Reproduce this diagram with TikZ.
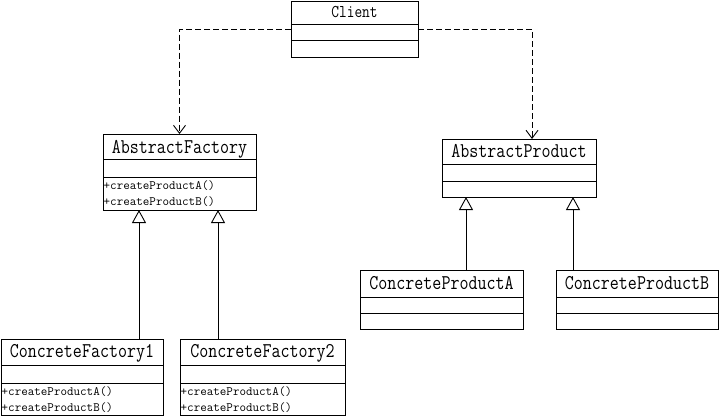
\documentclass[tikz,border=0pt]{standalone}
\usetikzlibrary{arrows.meta}
\newcommand{\tallname}[1]{\scalebox{1}[1.2]{#1}}
\begin{document}
\begin{tikzpicture}[x=1pt,y=-1pt,
  box/.style={draw, line width=0.9pt, inner sep=0pt, outer sep=0pt, anchor=north west},
  div/.style={line width=0.9pt},
  cname/.style={anchor=base, inner sep=0pt, font=\fontsize{17.5}{20}\selectfont\ttfamily},
  clname/.style={anchor=base, inner sep=0pt, font=\fontsize{15}{18}\selectfont\ttfamily},
  meth/.style={anchor=base west, inner sep=0pt, font=\fontsize{12.7}{15}\selectfont\ttfamily},
  dep/.style={line width=0.9pt, dash pattern=on 6pt off 3pt, -{Straight Barb[length=8pt,width=12pt,line width=0.9pt]}},
  inh/.style={line width=0.9pt, -{Triangle[open,length=13pt,width=14pt,line width=0.9pt]}}
]
\useasboundingbox (0,0) rectangle (719,416);
\fill[white] (0,0) rectangle (719,416);

% Client
\node[box, minimum width=127pt, minimum height=56pt] (client) at (291,1) {};
\draw[div] (291,24) -- (418,24);
\draw[div] (291,40) -- (418,40);
\node[clname] (clientn) at (354.5,17) {\tallname{Client}};

% AbstractFactory
\node[box, minimum width=153pt, minimum height=76pt] (af) at (103,134) {};
\draw[div] (103,159) -- (256,159);
\draw[div] (103,177) -- (256,177);
\node[cname] (afn) at (179.5,153) {\tallname{AbstractFactory}};
\node[meth] (afm1) at (103.5,189) {+createProductA()};
\node[meth] (afm2) at (103.5,205) {+createProductB()};

% ConcreteFactory1
\node[box, minimum width=162pt, minimum height=76pt] (cf1) at (1,339) {};
\draw[div] (1,365) -- (163,365);
\draw[div] (1,383) -- (163,383);
\node[cname] (cf1n) at (82,357) {\tallname{ConcreteFactory1}};
\node[meth] (cf1m1) at (1.5,395) {+createProductA()};
\node[meth] (cf1m2) at (1.5,411) {+createProductB()};

% ConcreteFactory2
\node[box, minimum width=165pt, minimum height=76pt] (cf2) at (180,339) {};
\draw[div] (180,365) -- (345,365);
\draw[div] (180,383) -- (345,383);
\node[cname] (cf2n) at (262.5,357) {\tallname{ConcreteFactory2}};
\node[meth] (cf2m1) at (180.5,395) {+createProductA()};
\node[meth] (cf2m2) at (180.5,411) {+createProductB()};

% AbstractProduct
\node[box, minimum width=154pt, minimum height=58pt] (ap) at (442,139) {};
\draw[div] (442,164) -- (596,164);
\draw[div] (442,181) -- (596,181);
\node[cname] (apn) at (519,157) {\tallname{AbstractProduct}};

% ConcreteProductA
\node[box, minimum width=163pt, minimum height=59pt] (cpa) at (360,270) {};
\draw[div] (360,297) -- (523,297);
\draw[div] (360,313) -- (523,313);
\node[cname] (cpan) at (441.5,289) {\tallname{ConcreteProductA}};

% ConcreteProductB
\node[box, minimum width=162pt, minimum height=59pt] (cpb) at (556,270) {};
\draw[div] (556,297) -- (718,297);
\draw[div] (556,313) -- (718,313);
\node[cname] (cpbn) at (637,289) {\tallname{ConcreteProductB}};

% connector x positions
\coordinate (x1) at (139,0);
\coordinate (x2) at (218,0);
\coordinate (x3) at (466,0);
\coordinate (x4) at (573,0);
\coordinate (x5) at (532,0);

% dependencies
\draw[dep] (client.west) -| (af.north);
\draw[dep] (client.east) -| (ap.north -| x5);

% inheritance
\draw[inh] (cf1.north -| x1) -- (af.south -| x1);
\draw[inh] (cf2.north -| x2) -- (af.south -| x2);
\draw[inh] (cpa.north -| x3) -- (ap.south -| x3);
\draw[inh] (cpb.north -| x4) -- (ap.south -| x4);
\end{tikzpicture}
\end{document}
